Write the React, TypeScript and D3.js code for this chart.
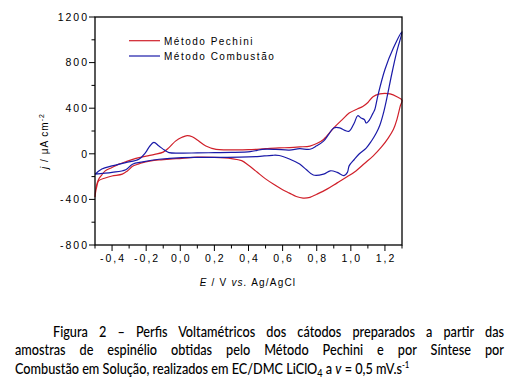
import React, { useLayoutEffect, useRef } from 'react';
import * as d3 from 'd3';

// ---- Data ----
const pechiniE = [
  -0.5, -0.497, -0.49, -0.478, -0.46, -0.44, -0.4, -0.36, -0.32, -0.26, -0.2, -0.15, -0.1, -0.066, -0.028,
  0.01, 0.04, 0.07, 0.1, 0.15, 0.21, 0.28, 0.4, 0.5, 0.58, 0.64, 0.7, 0.76, 0.8, 0.84, 0.9, 0.95, 0.99,
  1.04, 1.07, 1.1, 1.13, 1.17, 1.2, 1.23, 1.27, 1.3,
  1.29, 1.27, 1.25, 1.22, 1.18, 1.13, 1.08, 1.03, 0.98, 0.92, 0.86, 0.8, 0.76, 0.72, 0.68, 0.64, 0.6,
  0.55, 0.5, 0.45, 0.4, 0.36, 0.3, 0.2, 0.1, 0.01, -0.06, -0.125, -0.18, -0.22, -0.25, -0.28, -0.31,
  -0.34, -0.4, -0.44, -0.478, -0.49, -0.497, -0.5,
];
const pechiniJ = [
  -380, -330, -270, -221, -185, -150, -120, -91, -70, -40, -20, -5, 15, 54, 111,
  145, 160, 150, 120, 68, 39, 35, 36, 45, 52, 54, 60, 68, 90, 126, 227, 300, 357,
  395, 415, 450, 501, 525, 530, 525, 500, 470,
  420, 300, 215, 140, 60, -20, -85, -150, -200, -255, -310, -355, -382, -388, -375, -345, -315,
  -270, -220, -160, -100, -60, -42, -32, -30, -40, -46, -54, -65, -77, -92, -110, -150,
  -178, -195, -212, -236, -290, -340, -380,
];
const combustaoE = [
  -0.5, -0.46, -0.4, -0.32, -0.243, -0.204, -0.18, -0.155, -0.125, -0.09, -0.066, 0.01, 0.1, 0.2, 0.3,
  0.41, 0.45, 0.48, 0.56, 0.64, 0.7, 0.76, 0.8, 0.84, 0.87, 0.9, 0.935, 0.965, 0.99, 1.02, 1.04, 1.06,
  1.08, 1.09, 1.11, 1.13, 1.14, 1.16, 1.2, 1.25, 1.3,
  1.27, 1.24, 1.21, 1.19, 1.17, 1.15, 1.12, 1.09, 1.05, 1.02, 0.99, 0.98, 0.96, 0.92, 0.88, 0.84, 0.78,
  0.74, 0.7, 0.64, 0.58, 0.54, 0.45, 0.35, 0.2, 0.01, -0.125, -0.22, -0.28, -0.32, -0.4, -0.5,
];
const combustaoJ = [
  -180, -134, -106, -77, -48, 10, 65, 100, 68, 30, 10, 6, 8, 10, 12,
  19, 30, 39, 39, 33, 45, 40, 70, 111, 170, 227, 227, 205, 198, 270, 334, 314,
  299, 270, 299, 357, 386, 520, 740, 930, 1070,
  900, 700, 480, 350, 250, 184, 110, 50, 0, -50, -106, -163, -192, -163, -149, -178, -186,
  -140, -90, -45, -15, -13, -24, -30, -32, -33, -48, -71, -91, -140, -163, -178,
];

const xTickValues = [-0.4, -0.2, 0, 0.2, 0.4, 0.6, 0.8, 1.0, 1.2];
const xTickLabels = ['-0,4', '-0,2', '0,0', '0,2', '0,4', '0,6', '0,8', '1,0', '1,2'];
const xMinorTicks = [-0.5, -0.3, -0.1, 0.1, 0.3, 0.5, 0.7, 0.9, 1.1, 1.3];
const yTickValues = [-800, -400, 0, 400, 800, 1200];
const yTickLabels = ['-800', '-400', '0', '400', '800', '1200'];
const yMinorTicks = [-600, -200, 200, 600, 1000];
const seriesNames = ['Método Pechini', 'Método Combustão'];
const captionLine1 = 'Figura 2 – Perfis Voltamétricos dos cátodos preparados a partir das';
const captionLine2 = 'amostras de espinélio obtidas pelo Método Pechini e por Síntese por';

const RED = '#d0202a';
const BLUE = '#1a1aa8';

export default function App() {
  const left = 95, right = 402, top = 17, bottom = 245;
  const x = d3.scaleLinear().domain([-0.5, 1.3]).range([left, right]);
  const y = d3.scaleLinear().domain([-800, 1200]).range([bottom, top]);

  const line = d3
    .line<[number, number]>()
    .x((d) => x(d[0]))
    .y((d) => y(d[1]))
    .curve(d3.curveCatmullRom.alpha(0.5));

  const pechini = pechiniE.map((e, i) => [e, pechiniJ[i]] as [number, number]);
  const combustao = combustaoE.map((e, i) => [e, combustaoJ[i]] as [number, number]);

  const tickFont = { fontFamily: '"Liberation Sans", Arial, sans-serif', fontSize: 10.5, letterSpacing: 2 };
  const colors = [RED, BLUE];

  // caption is drawn in a horizontally condensed group (Calibri-like width)
  const capScale = 0.87;
  const capLeft = 15;
  const ref1 = useRef<SVGTextElement>(null);
  const ref2 = useRef<SVGTextElement>(null);

  useLayoutEffect(() => {
    const items: [React.RefObject<SVGTextElement>, number][] = [
      [ref1, 451 / capScale],
      [ref2, 489 / capScale],
    ];
    items.forEach(([r, target]) => {
      const el = r.current;
      if (!el) return;
      el.style.wordSpacing = '0px';
      const w = el.getComputedTextLength();
      const spaces = (el.textContent || '').split(' ').length - 1;
      if (spaces > 0) el.style.wordSpacing = `${(target - w) / spaces}px`;
    });
  }, []);

  return (
    <svg
      width={516}
      height={379}
      style={{ position: 'absolute', left: 0, top: 0, background: '#fff' }}
    >
      <rect x={0} y={0} width={516} height={379} fill="#fff" />
      {/* curves */}
      <path d={line(pechini) || ''} fill="none" stroke={RED} strokeWidth={1.2} />
      <path d={line(combustao) || ''} fill="none" stroke={BLUE} strokeWidth={1.2} />

      {/* frame */}
      <rect x={left} y={top} width={right - left} height={bottom - top} fill="none" stroke="#000" strokeWidth={1.3} />

      {/* x ticks */}
      {xTickValues.map((v, i) => (
        <g key={'xt' + i}>
          <line x1={x(v)} x2={x(v)} y1={bottom} y2={bottom + 6} stroke="#000" strokeWidth={1} />
          <text x={x(v) + 1} y={262} textAnchor="middle" style={tickFont} fill="#000">
            {xTickLabels[i]}
          </text>
        </g>
      ))}
      {xMinorTicks.map((v, i) => (
        <line key={'xm' + i} x1={x(v)} x2={x(v)} y1={bottom} y2={bottom + 3.5} stroke="#000" strokeWidth={1} />
      ))}

      {/* y ticks */}
      {yTickValues.map((v, i) => (
        <g key={'yt' + i}>
          <line x1={left - 6} x2={left} y1={y(v)} y2={y(v)} stroke="#000" strokeWidth={1} />
          <text x={89} y={y(v)} dy="0.36em" textAnchor="end" style={tickFont} fill="#000">
            {yTickLabels[i]}
          </text>
        </g>
      ))}
      {yMinorTicks.map((v, i) => (
        <line key={'ym' + i} x1={left - 3.5} x2={left} y1={y(v)} y2={y(v)} stroke="#000" strokeWidth={1} />
      ))}

      {/* axis titles */}
      <text
        x={248}
        y={286}
        textAnchor="middle"
        style={{ fontFamily: '"Liberation Sans", Arial, sans-serif', fontSize: 10, letterSpacing: 1.2 }}
      >
        <tspan fontStyle="italic">E</tspan> / V <tspan fontStyle="italic">vs.</tspan> Ag/AgCl
      </text>
      <text
        transform="translate(48,141) rotate(-90)"
        textAnchor="middle"
        style={{ fontFamily: '"Liberation Sans", Arial, sans-serif', fontSize: 10, letterSpacing: 1 }}
      >
        <tspan fontStyle="italic">j</tspan> / μA cm
        <tspan dy={-4} fontSize={7}>-2</tspan>
      </text>

      {/* legend */}
      {seriesNames.map((name, i) => (
        <g key={'lg' + i}>
          <line x1={129} x2={160} y1={40.7 + i * 15.3} y2={40.7 + i * 15.3} stroke={colors[i]} strokeWidth={1.2} />
          <text
            x={164}
            y={44.5 + i * 15.3}
            style={{ fontFamily: '"Liberation Sans", Arial, sans-serif', fontSize: 10, letterSpacing: 1.5 }}
          >
            {name}
          </text>
        </g>
      ))}

      {/* caption */}
      <g
        transform={`translate(${capLeft},0) scale(${capScale},1)`}
        style={{ fontFamily: 'Lato, "Open Sans", sans-serif', fontSize: 14.6, fontWeight: 500 }}
        fill="#000"
      >
        <text ref={ref1} x={(53 - capLeft) / capScale} y={337}>
          {captionLine1}
        </text>
        <text ref={ref2} x={0} y={355.5}>
          {captionLine2}
        </text>
        <text x={0} y={374}>
          Combustão em Solução, realizados em EC/DMC LiClO
          <tspan dy={3} fontSize={10.5}>4</tspan>
          <tspan dy={-3}> a </tspan>
          <tspan fontStyle="italic">v</tspan> = 0,5 mV.s
          <tspan dy={-6} fontSize={9}>-1</tspan>
        </text>
      </g>
    </svg>
  );
}
